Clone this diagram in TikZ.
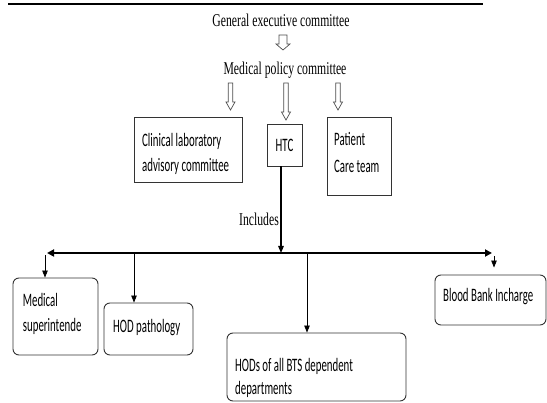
\documentclass[tikz,border=0pt]{standalone}
\usepackage{fontspec}
\usepackage{tikz}
\usetikzlibrary{arrows.meta}
\newfontfamily\serifsq{Liberation Serif}[FakeStretch=0.65]
\newfontfamily\sanssq{Carlito}[FakeStretch=0.57]
% x, top, tip, shaft, head, head length
\newcommand{\holarrow}[6]{\draw[hol] (#1-#4,#2) -- (#1+#4,#2) -- (#1+#4,#3-#6) -- (#1+#5,#3-#6) -- (#1,#3) -- (#1-#5,#3-#6) -- (#1-#4,#3-#6) -- cycle;}

\begin{document}
\begin{tikzpicture}[x=1pt,y=-1pt,
  cbox/.style={draw=black!80,line width=0.9pt,inner sep=0pt},
  rbox/.style={cbox,rounded corners=6pt},
  sertext/.style={font=\serifsq\fontsize{18}{22}\selectfont,inner sep=0pt,anchor=base},
  boxtext/.style={font=\sanssq\fontsize{19}{25}\selectfont,inner sep=0pt,align=left,anchor=base west},
  arr/.style={-{Triangle[length=7pt,width=5.5pt]},line width=0.8pt},
  hol/.style={draw=black!70,line width=0.7pt,fill=white}]
\useasboundingbox (0,0) rectangle (547,403);
\draw[line width=2pt] (8,4) -- (483,4); %Titelzeile

\node[sertext] (gec) at (281,26.7) {General executive committee};
\node[sertext] (mpc) at (285,75) {Medical policy committee};
\holarrow{283}{35}{50}{4}{7}{6}
\holarrow{230.5}{83}{110}{2.2}{4.5}{8}
\holarrow{286}{83}{120}{2.2}{4.5}{8}
\holarrow{338}{83}{110}{2.2}{4.5}{8}

%Ausschuesse
\node[cbox,minimum width=108pt,minimum height=65pt] (clab) at (188,149.5) {};
\node[boxtext] at (142,171.7) {Clinical laboratory\\advisory committee};
\node[cbox,minimum width=35pt,minimum height=42pt,font=\sanssq\fontsize{19}{25}\selectfont] (htc) at (284.5,145) {HTC};
\node[cbox,minimum width=64pt,minimum height=78pt] (pct) at (359,156) {};
\node[boxtext] at (334,172.7) {Patient\\[2pt]Care team};

%Verteiler
\coordinate (busL) at (47,253);
\coordinate (busR) at (492,253);
\draw[{Triangle[length=7pt,width=7pt]}-{Triangle[length=7pt,width=7pt]},line width=1.8pt] (busL) -- (busR);
\draw[arr,line width=1.2pt] ([xshift=-3.5pt]htc.south) -- ([xshift=-3.5pt]htc.south |- busL);
\node[sertext] (inc) at (259,226) {Includes};

%Mitglieder
\node[rbox,minimum width=85pt,minimum height=77pt] (ms) at (55.5,316.5) {};
\node[boxtext] at (22.7,331.7) {Medical\\superintende};
\node[rbox,minimum width=89pt,minimum height=52pt] (hodp) at (148.5,329) {};
\node[boxtext] at (113,332.7) {HOD pathology};
\node[rbox,minimum width=179pt,minimum height=68pt] (bts) at (316.5,367) {};
\node[boxtext] at (235,395) {HODs of all BTS dependent\\[-1.7pt]departments};
\node[rbox,minimum width=111pt,minimum height=50pt] (bbi) at (490.5,300) {};
\node[boxtext] at (443,301.7) {Blood Bank Incharge};

\coordinate (j0) at (45,255);
\coordinate (j1) at (134,253);
\coordinate (j2) at (307,253);
\coordinate (j3) at (494,256);
\draw[arr] (j0) -- (j0 |- ms.north);
\draw[arr] (j1) -- (j1 |- hodp.north);
\draw[arr] (j2) -- (j2 |- bts.north);
\draw[arr] (j3) -- ([yshift=7pt]j3 |- bbi.north);
\end{tikzpicture}
\end{document}
